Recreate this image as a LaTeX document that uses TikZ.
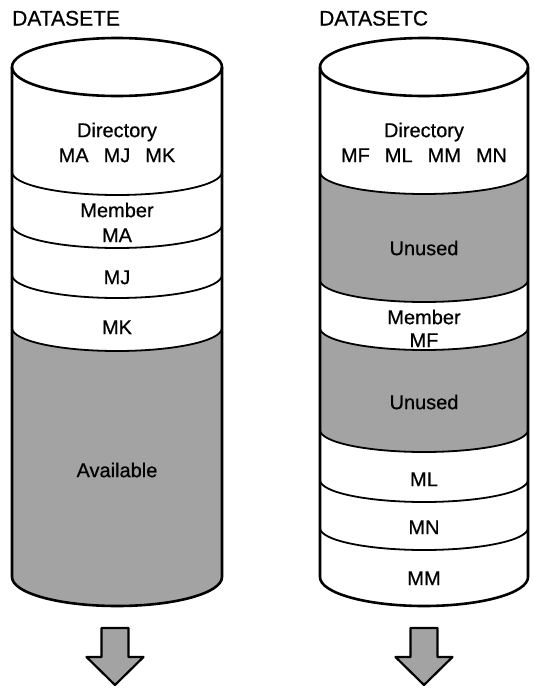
\documentclass[tikz,border=0pt]{standalone}
\usepackage{fontspec}
\setmainfont{Liberation Sans}
\newfontfamily\labelfont[FakeBold=0.6]{Liberation Sans}
\colorlet{unusedgray}{black!36}
\begin{document}
\begin{tikzpicture}[x=1pt, y=1pt, line join=round,
    outline/.style={line width=2.6pt},
    divider/.style={line width=1.8pt},
    lbl/.style={font=\labelfont\fontsize{20}{22}\selectfont, inner sep=0pt, text height=14.3pt, text depth=0pt},
    title/.style={font=\labelfont\fontsize{21}{23}\selectfont, inner sep=0pt, anchor=base west}]
\useasboundingbox (0,0) rectangle (534,-689);

% shaded parts
\fill[unusedgray] (12,-328) arc[start angle=180, end angle=360, x radius=105, y radius=23]
    -- (222,-577) arc[start angle=0, end angle=-180, x radius=105, y radius=29] -- cycle;
\foreach \a/\b in {172/280, 328/430}
    \fill[unusedgray] (320,-\a) arc[start angle=180, end angle=360, x radius=104, y radius=22]
        -- (528,-\b) arc[start angle=0, end angle=-180, x radius=104, y radius=22] -- cycle;

% dividers
\foreach \y in {172, 225, 275, 328}
    \draw[divider] (12,-\y) arc[start angle=180, end angle=360, x radius=105, y radius=23];
\foreach \y in {172, 280, 328, 430, 480, 528}
    \draw[divider] (320,-\y) arc[start angle=180, end angle=360, x radius=104, y radius=22];

% cylinders
\draw[outline] (117,-67) ellipse[x radius=105, y radius=29];
\draw[outline] (12,-67) -- (12,-577) arc[start angle=180, end angle=360, x radius=105, y radius=29] -- (222,-67);
\draw[outline] (424,-67) ellipse[x radius=104, y radius=29];
\draw[outline] (320,-67) -- (320,-577) arc[start angle=180, end angle=360, x radius=104, y radius=29] -- (528,-67);

% arrows
\foreach \c in {115, 424}
    \filldraw[fill=unusedgray, line width=2.2pt] ({\c-13.5},-628) -- ({\c+13.5},-628) -- ({\c+13.5},-657)
        -- ({\c+28.5},-657) -- (\c,-685) -- ({\c-28.5},-657) -- ({\c-13.5},-657) -- cycle;

% DATASETE
\node[title] (titleE) at (12,-25.5) {DATASETE};
\node[lbl] (dirE) at (117,-130) {Directory};
\node[lbl] (dirlistE) at (117,-155) {MA\hspace{.75em}MJ\hspace{.75em}MK};
\node[lbl] (memE) at (117,-210) {Member};
\node[lbl] (ma) at (117,-235) {MA};
\node[lbl] (mj) at (117,-277) {MJ};
\node[lbl] (mk) at (117,-327) {MK};
\node[lbl] (avail) at (117,-470) {Available};

% DATASETC
\node[title] (titleC) at (319,-25.5) {DATASETC};
\node[lbl] (dirC) at (424,-130) {Directory};
\node[lbl] (dirlistC) at (424,-155) {MF\hspace{.75em}ML\hspace{.75em}MM\hspace{.75em}MN};
\node[lbl] (unused1) at (424,-248) {Unused};
\node[lbl] (memC) at (424,-317) {Member};
\node[lbl] (mf) at (424,-340) {MF};
\node[lbl] (unused2) at (424,-402) {Unused};
\node[lbl] (ml) at (424,-479) {ML};
\node[lbl] (mn) at (424,-527) {MN};
\node[lbl] (mm) at (424,-578) {MM};
\end{tikzpicture}
\end{document}
